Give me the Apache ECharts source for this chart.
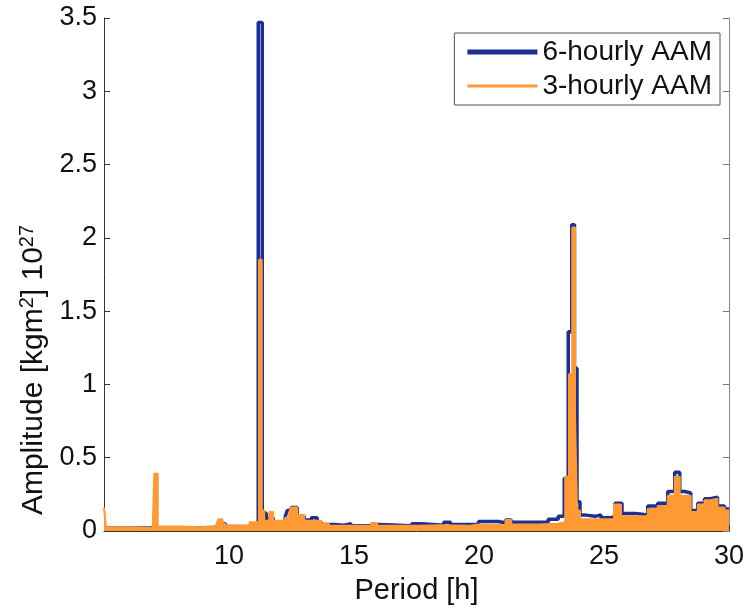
<!DOCTYPE html>
<html>
<head>
<meta charset="utf-8">
<script src="https://cdn.jsdelivr.net/npm/echarts@6/dist/echarts.min.js"></script>
<style>
html,body{margin:0;padding:0;background:#fff;}
#chart{width:747px;height:610px;}
</style>
</head>
<body>
<div id="chart"></div>
<script>
// Period [h] and amplitude [10^27 kgm^2] for the 6-hourly AAM series
var periods6h = [5.00, 6.04, 7.23, 8.82, 9.42, 9.62, 9.86, 10.82, 11.06, 11.17, 11.33, 11.39, 11.49, 11.61, 11.77, 12.25, 12.33, 12.49, 12.73, 13.01, 13.29, 13.53, 13.69, 14.20, 14.60, 14.88, 15.68, 16.00, 17.31, 17.71, 18.59, 18.86, 19.98, 20.78, 21.06, 21.29, 22.77, 23.17, 23.41, 23.57, 23.71, 23.82, 23.92, 24.04, 24.20, 24.64, 24.88, 25.27, 25.44, 25.72, 25.96, 26.27, 26.75, 27.15, 27.55, 27.83, 28.03, 28.23, 28.47, 28.75, 29.02, 29.26, 29.54, 29.82, 30.00];
var amp6h = [0.02, 0.02, 0.02, 0.025, 0.03, 0.05, 0.03, 0.04, 0.05, 3.47, 0.13, 0.12, 0.07, 0.09, 0.06, 0.10, 0.14, 0.16, 0.10, 0.075, 0.09, 0.06, 0.045, 0.04, 0.05, 0.035, 0.045, 0.035, 0.05, 0.04, 0.06, 0.045, 0.065, 0.055, 0.075, 0.06, 0.08, 0.10, 0.36, 1.36, 2.09, 1.11, 0.20, 0.11, 0.10, 0.11, 0.09, 0.10, 0.19, 0.12, 0.12, 0.11, 0.17, 0.19, 0.27, 0.40, 0.27, 0.26, 0.14, 0.19, 0.22, 0.23, 0.17, 0.15, 0.15];

// Period [h] and amplitude for the 3-hourly AAM series
var periods3h = [5.00, 5.08, 6.04, 6.95, 7.01, 7.15, 8.03, 8.82, 9.50, 9.58, 9.74, 9.86, 10.82, 11.20, 11.31, 11.41, 11.61, 11.77, 12.25, 12.41, 12.49, 12.73, 13.01, 13.29, 13.69, 14.00, 15.68, 15.92, 17.59, 18.39, 19.58, 19.98, 21.06, 21.29, 22.37, 23.17, 23.45, 23.60, 23.73, 23.84, 23.92, 24.04, 24.88, 25.40, 25.68, 26.75, 27.15, 27.55, 27.83, 28.03, 28.23, 28.47, 28.75, 29.02, 29.26, 29.54, 29.82, 30.00];
var amp3h = [0.16, 0.025, 0.02, 0.025, 0.39, 0.03, 0.025, 0.03, 0.05, 0.08, 0.05, 0.035, 0.06, 1.85, 0.14, 0.07, 0.13, 0.07, 0.09, 0.13, 0.16, 0.11, 0.07, 0.07, 0.05, 0.035, 0.055, 0.035, 0.04, 0.035, 0.045, 0.04, 0.075, 0.045, 0.05, 0.06, 0.37, 1.07, 2.07, 0.80, 0.14, 0.08, 0.08, 0.18, 0.10, 0.15, 0.17, 0.24, 0.37, 0.24, 0.24, 0.13, 0.18, 0.21, 0.22, 0.16, 0.14, 0.14];

var seriesNames = ['6-hourly AAM', '3-hourly AAM'];
var xTicks = [10, 15, 20, 25, 30];

function pairs(xs, ys) { return xs.map(function (x, i) { return [x, ys[i]]; }); }

var FONT = '"Liberation Sans", Arial, sans-serif';
var FS = 27;
var chart = echarts.init(document.getElementById('chart'), null, {renderer: 'canvas'});
chart.setOption({
  animation: false,
  backgroundColor: '#ffffff',
  textStyle: {fontFamily: FONT},
  grid: {left: 104, right: 16, top: 18, bottom: 66},
  legend: {
    orient: 'vertical',
    right: 27, top: 33,
    padding: [5, 8, 5, 13],
    itemGap: 6,
    itemWidth: 70, itemHeight: 14,
    backgroundColor: '#ffffff',
    borderColor: '#555555', borderWidth: 1,
    textStyle: {fontFamily: FONT, fontSize: 28, color: '#111111'},
    data: [
      {name: seriesNames[0], icon: 'path://M0,0L0.01,0M0,4.5H70V9.5H0ZM0,14L0.01,14', itemStyle: {color: '#1b2f94'}},
      {name: seriesNames[1], icon: 'path://M0,0L0.01,0M0,5.5H70V8.5H0ZM0,14L0.01,14', itemStyle: {color: '#ff9933'}}
    ]
  },
  graphic: [{
    type: 'text', x: 34, y: 370, rotation: Math.PI / 2,
    style: {
      text: 'Amplitude [kgm{sup|2}] 10{sup|27}',
      fontFamily: FONT, fontSize: 30, fill: '#111111',
      align: 'center', verticalAlign: 'middle',
      rich: {sup: {fontFamily: FONT, fontSize: 20, fill: '#111111', padding: [0, 0, 13, 0]}}
    }
  }],
  xAxis: {
    type: 'value', min: 5, max: 30, interval: 5,
    name: 'Period [h]', nameLocation: 'middle', nameGap: 45,
    nameTextStyle: {fontFamily: FONT, fontSize: 29, color: '#111111'},
    axisLine: {show: true, lineStyle: {color: '#333333', width: 1}},
    axisTick: {show: true, inside: true, length: 6, lineStyle: {color: '#333333'}},
    axisLabel: {fontFamily: FONT, fontSize: FS, color: '#111111', margin: 12,
      formatter: function (v) { return xTicks.indexOf(v) >= 0 ? String(v) : ''; }},
    splitLine: {show: false}
  },
  yAxis: [{
    type: 'value', min: 0, max: 3.5, interval: 0.5,
    axisLine: {show: true, lineStyle: {color: '#333333', width: 1}},
    axisTick: {show: true, inside: true, length: 6, lineStyle: {color: '#333333'}},
    axisLabel: {fontFamily: FONT, fontSize: FS, color: '#111111', margin: 7},
    splitLine: {show: false}
  }, {
    type: 'value', min: 0, max: 3.5, interval: 0.5, position: 'right',
    axisLine: {show: true, lineStyle: {color: '#888888', width: 1}},
    axisTick: {show: true, inside: true, length: 6, lineStyle: {color: '#777777'}},
    axisLabel: {show: false},
    splitLine: {show: false}
  }],
  series: [{
    name: seriesNames[0], type: 'line', step: 'end', symbol: 'none', z: 2,
    lineStyle: {color: '#1b2f94', width: 3.5},
    itemStyle: {color: '#1b2f94'},
    data: pairs(periods6h, amp6h)
  }, {
    name: seriesNames[1], type: 'line', step: 'end', symbol: 'none', z: 3,
    lineStyle: {color: '#ff9933', width: 2},
    itemStyle: {color: '#ff9933'},
    areaStyle: {color: '#ff9933', opacity: 1},
    data: pairs(periods3h, amp3h)
  }]
});
</script>
</body>
</html>
